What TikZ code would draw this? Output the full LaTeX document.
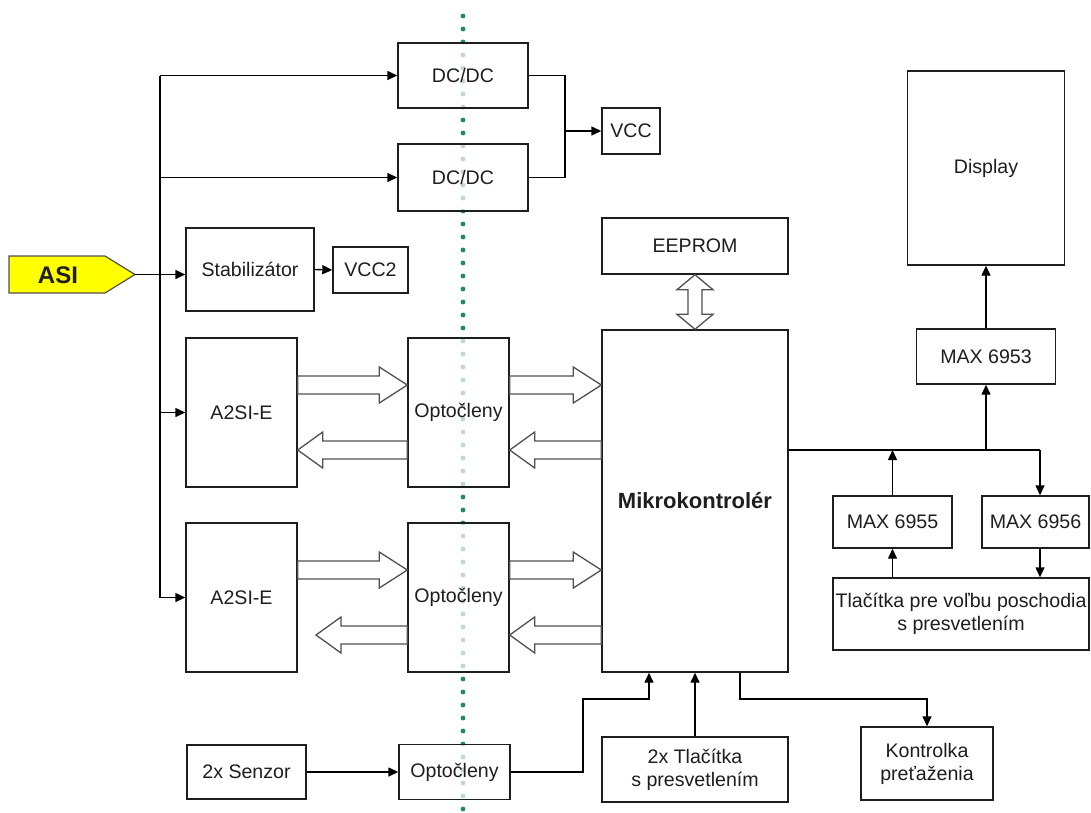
\documentclass[tikz,border=0pt]{standalone}
\usepackage{fontspec}
\setmainfont{Liberation Sans}
\usetikzlibrary{arrows.meta,calc}
\definecolor{boxc}{RGB}{30,30,30}
\definecolor{dotc}{RGB}{30,140,85}
\definecolor{fatc}{RGB}{80,80,80}
\definecolor{asiy}{RGB}{255,255,0}
\newcommand\fatright[2]{\draw[fat] let \p1=(#1), \p2=(#2) in (\x1,\y1+9pt) -- (\x2-28pt,\y1+9pt) -- (\x2-28pt,\y1+18pt) -- (\x2,\y1) -- (\x2-28pt,\y1-18pt) -- (\x2-28pt,\y1-9pt) -- (\x1,\y1-9pt) -- cycle;}
\newcommand\fatleft[2]{\draw[fat] let \p1=(#1), \p2=(#2) in (\x1,\y1+9pt) -- (\x2+25pt,\y1+9pt) -- (\x2+25pt,\y1+18pt) -- (\x2,\y1) -- (\x2+25pt,\y1-18pt) -- (\x2+25pt,\y1-9pt) -- (\x1,\y1-9pt) -- cycle;}
\tikzset{
  box/.style={draw=boxc, line width=1.4pt, fill=white, fill opacity=0.7, text opacity=1,
    inner sep=0pt, align=center, text=boxc, font=\fontsize{19.6}{23}\selectfont},
  sz/.style 2 args={minimum width=#1pt, minimum height=#2pt},
  line/.style={draw=black, line width=1.4pt},
  arr/.style={line, -{Triangle[length=10pt,width=9pt]}},
  fat/.style={draw=fatc, line width=1.3pt, fill=white, line join=miter},
}
\begin{document}
\begin{tikzpicture}[x=1pt,y=-1pt]
\useasboundingbox (0,0) rectangle (1091,812);
\fill[white] (0,0) rectangle (1091,812);
% dotted separator
\foreach \yy in {16,29,...,812} \fill[dotc] (463,\yy) circle (2.4pt);

% ASI tag
\draw[fill=asiy, draw=fatc, line width=1.2pt] (9,256) -- (105,256) -- (135,274.5) -- (105,293) -- (9,293) -- cycle;
\node[font=\fontsize{24}{26}\selectfont\bfseries, text=boxc] (asi) at (58,275) {ASI};
\coordinate (asitip) at (135,274.5);

% boxes
\node[box, sz={130}{65}] (dc1) at (463,75.5) {DC/DC};
\node[box, sz={130}{67}] (dc2) at (463,177.5) {DC/DC};
\node[box, sz={58}{46}] (vcc) at (631,131) {VCC};
\node[box, sz={128}{83}] (stab) at (250,269.5) {Stabilizátor};
\node[box, sz={75}{46}] (vcc2) at (370.5,270) {VCC2};
\node[box, sz={111}{149}] (a2si1) at (241.5,412.5) {A2SI-E};
\node[box, sz={101}{149}] (opto1) at (458.5,412.5) {Optočleny};
\node[box, sz={111}{149}] (a2si2) at (241.5,597.5) {A2SI-E};
\node[box, sz={101}{149}] (opto2) at (458.5,597.5) {Optočleny};
\node[box, sz={186}{342}, font=\fontsize{22}{26}\selectfont\bfseries] (mikro) at (695,501) {Mikrokontrolér};
\node[box, sz={186}{56}] (eeprom) at (695,246) {EEPROM};
\node[box, sz={157}{194}] (display) at (986,168) {Display};
\node[box, sz={139}{55}] (max6953) at (986,356.5) {MAX 6953};
\node[box, sz={119}{52}] (max6955) at (892.5,522) {MAX 6955};
\node[box, sz={107}{52}] (max6956) at (1035.5,522) {MAX 6956};
\node[box, sz={256}{72}] (tlac) at (961,614) {Tlačítka pre voľbu poschodia\\s presvetlením};
\node[box, sz={119}{54}] (senzor) at (246.5,772) {2x Senzor};
\node[box, sz={111}{55}] (opto3) at (454.5,772) {Optočleny};
\node[box, sz={186}{65}] (tl2x) at (695,769.5) {2x Tlačítka\\s presvetlením};
\node[box, sz={132}{73}] (kontrolka) at (927,763.5) {Kontrolka\\preťaženia};

% trunk from ASI
\coordinate (trtop) at (160,75.5);
\coordinate (trbot) at (160,597.5);
\draw[line] (trtop) -- (trbot);
\draw[line] (asitip) -- (asitip -| trtop);
\draw[arr] (trtop) -- (dc1.west);
\draw[arr] (dc2.west -| trtop) -- (dc2.west);
\draw[arr] (asitip -| trtop) -- (asitip -| stab.west);
\draw[arr] (a2si1.west -| trtop) -- (a2si1.west);
\draw[arr] (trbot) -- (a2si2.west);
\draw[arr] (stab.east) -- (vcc2.west);

% DC/DC to VCC
\coordinate (v1) at (565,131);
\draw[line] (dc1.east) -| (v1);
\draw[line] (dc2.east) -| (v1);
\draw[arr] (v1) -- (vcc.west);

% fat arrows
\coordinate (r1) at (0,385);
\coordinate (l1) at (0,450);
\coordinate (r2) at (0,570);
\coordinate (l2) at (0,635);
\coordinate (l2tip) at (316,635);
\fatright{a2si1.east |- r1}{opto1.west |- r1}
\fatleft{opto1.west |- l1}{a2si1.east |- l1}
\fatright{opto1.east |- r1}{mikro.west |- r1}
\fatleft{mikro.west |- l1}{opto1.east |- l1}
\fatright{a2si2.east |- r2}{opto2.west |- r2}
\fatleft{opto2.west |- l2}{l2tip}
\fatright{opto2.east |- r2}{mikro.west |- r2}
\fatleft{mikro.west |- l2}{opto2.east |- l2}
% EEPROM double arrow
\draw[fat] let \p1=(eeprom.south), \p2=(mikro.north) in
  (\x1,\y1) -- (\x1+18pt,\y1-15pt) -- (\x1+7pt,\y1-15pt) -- (\x1+7pt,\y2+15pt) -- (\x1+18pt,\y2+15pt)
  -- (\x2,\y2) -- (\x1-18pt,\y2+15pt) -- (\x1-7pt,\y2+15pt) -- (\x1-7pt,\y1-15pt) -- (\x1-18pt,\y1-15pt) -- cycle;

% right side
\coordinate (j1) at (986,450);
\coordinate (j2) at (1040,450);
\draw[line] (mikro.east |- j1) -- (j2);
\draw[arr] (j1) -- (max6953.south);
\draw[arr] (max6953.north) -- (display.south);
\draw[arr] (max6955.north) -- (max6955.north |- j1);
\draw[arr] (j2) -- (j2 |- max6956.north);
\draw[arr] (tlac.north -| max6955.south) -- (max6955.south);
\draw[arr] (max6956.south -| j2) -- (tlac.north -| j2);

% bottom
\coordinate (b1) at (583,699);
\coordinate (b2) at (649,699);
\coordinate (b3) at (740,699);
\draw[arr] (senzor.east) -- (opto3.west);
\draw[arr] (opto3.east) -| (b1) -- (b2) -- (b2 |- mikro.south);
\draw[arr] (tl2x.north) -- (mikro.south);
\draw[arr] (mikro.south -| b3) -- (b3) -| (kontrolka.north);
\end{tikzpicture}
\end{document}
